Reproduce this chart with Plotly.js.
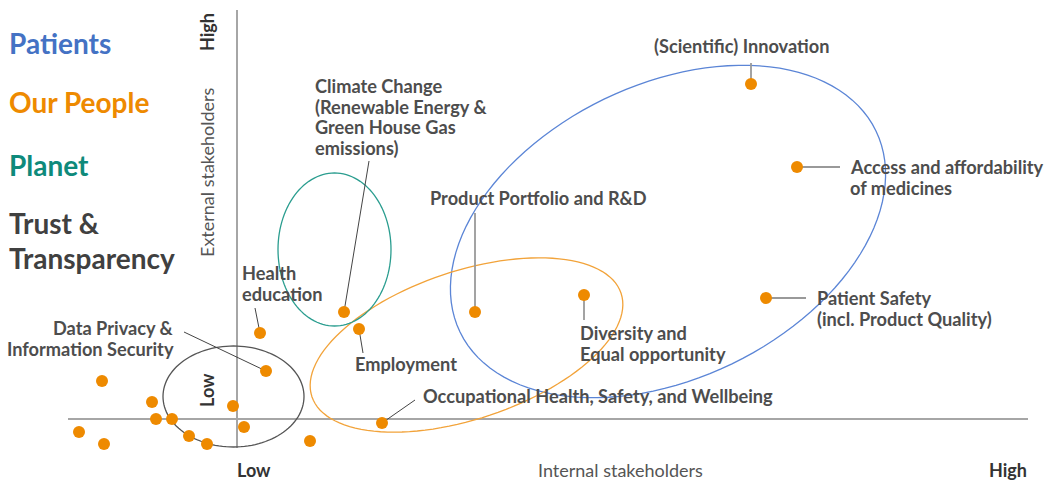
<!DOCTYPE html>
<html>
<head>
<meta charset="utf-8">
<script src="https://cdn.plot.ly/plotly-3.0.1.min.js"></script>
<style>html,body{margin:0;padding:0;background:#fff;}#chart{width:1048px;height:484px;}</style>
</head>
<body>
<div id="chart"></div>
<script>
// ---- DATA (internal / external stakeholder importance, origin = axis crossing) ----
const topics = [
  "(Scientific) Innovation",
  "Access and affordability\nof medicines",
  "Patient Safety\n(incl. Product Quality)",
  "Product Portfolio and R&D",
  "Diversity and\nEqual opportunity",
  "Climate Change\n(Renewable Energy &\nGreen House Gas\nemissions)",
  "Employment",
  "Health\neducation",
  "Data Privacy &\nInformation Security",
  "Occupational Health, Safety, and Wellbeing"
];
const internalScore = [514, 560, 529, 238, 347, 107, 122, 23, 29, 145];
const externalScore = [335, 252, 121, 107, 124, 107, 90, 86, 48, -4];

// unlabelled lower-priority topics
const otherInternal = [-135, -85, -81, -65, -158, -133, -48, -30, -4, 7, 73];
const otherExternal = [38, 17, 0, 0, -13, -25, -17, -25, 13, -8, -22];

const pillars = ["Patients", "Our People", "Planet", "Trust &\nTransparency"];
const pillarColors = ["#4472C4", "#EE8A00", "#0E8A7B", "#404040"];

const axisTexts = {yHigh: "High", yTitle: "External stakeholders", yLow: "Low",
                   xLow: "Low", xTitle: "Internal stakeholders", xHigh: "High"};

// ---- LAYOUT CONFIG (offsets in px, screen y down) ----
const labelLayout = [
  {anchor:'center', tx:-10, ty:-38, lead:[0,-21], tone:'light'},
  {anchor:'left',   tx:52,  ty:0,   lead:[43,0],  tone:'light'},
  {anchor:'left',   tx:50,  ty:0,   lead:[40,0],  tone:'light'},
  {anchor:'left',   tx:-46, ty:-114,lead:[0,-99], tone:'light'},
  {anchor:'left',   tx:-5,  ty:38,  lead:[0,25],  tone:'light'},
  {anchor:'left',   tx:-30, ty:-226,lead:[25,-151],tone:'dark'},
  {anchor:'left',   tx:-5,  ty:35,  lead:[4,24],  tone:'dark'},
  {anchor:'left',   tx:-19, ty:-60, lead:[-5,-25],tone:'dark'},
  {anchor:'right',  tx:-91, ty:-43, lead:[-82,-39],tone:'dark'},
  {anchor:'left',   tx:40,  ty:-27, lead:[33,-23],tone:'dark'}
];
const LINE_H = 20.5;
const FONT = "Lato, 'Open Sans', sans-serif";
const LABEL_COLOR = "#4d4d4d";

const ellipses = [
  {cx:431,  cy:187.5, a:231,  b:147,  ang:25.8, color:"#5B85D6"},
  {cx:229.5,cy:74,    a:163,  b:74,   ang:18.5, color:"#F2A33A"},
  {cx:97.5, cy:169.5, a:56.5, b:76.5, ang:0,    color:"#2A9D8F"},
  {cx:-3.5, cy:22.5,  a:70.5, b:50.5, ang:0,    color:"#555555"}
];

function ellipsePath(e){
  const n = 120, t = e.ang*Math.PI/180;
  let d = "";
  for(let i=0;i<=n;i++){
    const u = 2*Math.PI*i/n;
    const x = e.a*Math.cos(u), y = e.b*Math.sin(u);
    const X = e.cx + x*Math.cos(t) - y*Math.sin(t);
    const Y = e.cy + x*Math.sin(t) + y*Math.cos(t);
    d += (i===0?"M":"L") + X.toFixed(2) + "," + Y.toFixed(2) + " ";
  }
  return d + "Z";
}

const shapes = [];
const annotations = [];

// axes lines
shapes.push({type:'line', xref:'x', yref:'y', x0:-169, x1:791, y0:0, y1:0, line:{color:'#A6A6A6', width:2}, layer:'below'});
shapes.push({type:'line', xref:'x', yref:'y', x0:0, x1:0, y0:409, y1:-29, line:{color:'#A6A6A6', width:2}, layer:'below'});

ellipses.forEach(e => shapes.push({type:'path', xref:'x', yref:'y', path:ellipsePath(e), line:{color:e.color, width:1.3}, layer:'below'}));

topics.forEach((name, i) => {
  const L = labelLayout[i];
  const x = internalScore[i], y = externalScore[i];
  shapes.push({type:'line', xref:'x', yref:'y', x0:x, y0:y, x1:x+L.lead[0], y1:y-L.lead[1],
    line:{color: L.tone==='light' ? '#999999' : '#444444', width: L.tone==='light' ? 1.8 : 1}, layer:'below'});
  name.split("\n").forEach((line, k) => {
    annotations.push({xref:'x', yref:'y', x:x+L.tx, y:y-L.ty-k*LINE_H, text:line, showarrow:false,
      xanchor:L.anchor, yanchor:'middle', borderpad:0,
      font:{family:FONT, size:18.2, color:LABEL_COLOR, weight:700}});
  });
});

// pillar legend
const pillarY = [43, 102, 165, 223];
pillars.forEach((p, i) => {
  p.split("\n").forEach((line, k) => {
    annotations.push({xref:'paper', yref:'paper', x:8/1048, y:1-(pillarY[i]+k*35)/484, text:line, showarrow:false,
      xanchor:'left', yanchor:'middle', borderpad:0,
      font:{family:FONT, size:28, color:pillarColors[i], weight:700}});
  });
});

// axis texts
const axFont = (bold) => ({family:FONT, size:18, color: bold ? '#333333' : '#555555', weight: bold?700:400});
annotations.push({xref:'paper', yref:'paper', x:207/1048, y:1-32/484, text:axisTexts.yHigh, textangle:-90, showarrow:false, xanchor:'center', yanchor:'middle', font:axFont(true)});
annotations.push({xref:'paper', yref:'paper', x:207/1048, y:1-172/484, text:axisTexts.yTitle, textangle:-90, showarrow:false, xanchor:'center', yanchor:'middle', font:axFont(false)});
annotations.push({xref:'paper', yref:'paper', x:207/1048, y:1-390/484, text:axisTexts.yLow, textangle:-90, showarrow:false, xanchor:'center', yanchor:'middle', font:axFont(true)});
annotations.push({xref:'paper', yref:'paper', x:254/1048, y:1-470/484, text:axisTexts.xLow, showarrow:false, xanchor:'center', yanchor:'middle', font:axFont(true)});
annotations.push({xref:'paper', yref:'paper', x:620/1048, y:1-470/484, text:axisTexts.xTitle, showarrow:false, xanchor:'center', yanchor:'middle', font:axFont(false)});
annotations.push({xref:'paper', yref:'paper', x:1008/1048, y:1-470/484, text:axisTexts.xHigh, showarrow:false, xanchor:'center', yanchor:'middle', font:axFont(true)});

const traces = [
  {type:'scatter', mode:'markers', x:otherInternal, y:otherExternal, hoverinfo:'skip',
   marker:{size:12, color:'#EE8A00', line:{width:0}}},
  {type:'scatter', mode:'markers', x:internalScore, y:externalScore, text:topics, hoverinfo:'text',
   marker:{size:12, color:'#EE8A00', line:{width:0}}}
];

const layout = {
  width:1048, height:484, margin:{l:0, r:0, t:0, b:0, pad:0},
  paper_bgcolor:'#ffffff', plot_bgcolor:'#ffffff', showlegend:false,
  xaxis:{range:[-237, 811], visible:false, fixedrange:true},
  yaxis:{range:[-65, 419], visible:false, fixedrange:true},
  shapes:shapes, annotations:annotations
};

Plotly.newPlot('chart', traces, layout, {displayModeBar:false, staticPlot:true});
</script>
</body>
</html>
